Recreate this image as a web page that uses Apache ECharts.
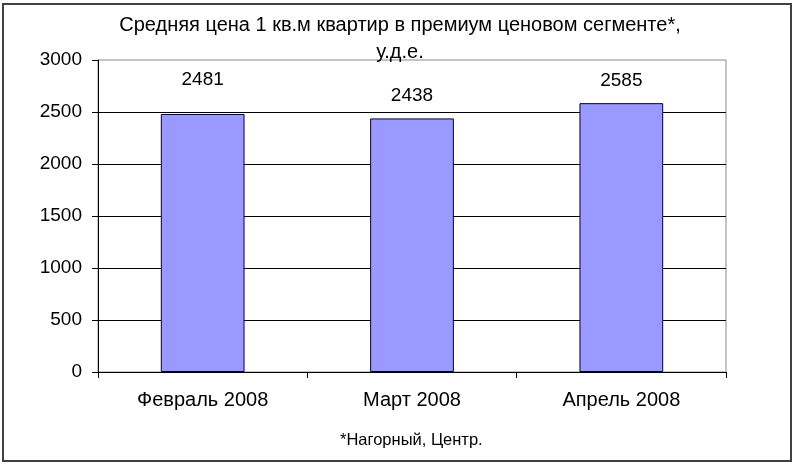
<!DOCTYPE html>
<html>
<head>
<meta charset="utf-8">
<script src="https://cdn.jsdelivr.net/npm/echarts@6/dist/echarts.min.js"></script>
<style>
html,body{margin:0;padding:0;background:#fff;}
#chart{width:800px;height:467px;}
</style>
</head>
<body>
<div id="chart"></div>
<script>
var categories = ['Февраль 2008', 'Март 2008', 'Апрель 2008'];
var values = [2481, 2438, 2585];
var titleText = 'Средняя цена 1 кв.м квартир в премиум ценовом сегменте*,\nу.д.е.';
var footnoteText = '*Нагорный, Центр.';

var labelDistances = [25, 13, 13];
var FONT = '"Liberation Sans", Arial, sans-serif';

var chart = echarts.init(document.getElementById('chart'), null, {renderer: 'canvas'});
chart.setOption({
  animation: false,
  backgroundColor: '#fff',
  textStyle: {fontFamily: FONT},
  graphic: [{
    type: 'rect',
    shape: {x: 3, y: 4, width: 788, height: 457},
    style: {fill: 'none', stroke: '#404040', lineWidth: 2},
    silent: true
  }],
  title: [{
    text: titleText,
    left: 'center',
    top: 7,
    textStyle: {fontFamily: FONT, fontSize: 20, fontWeight: 'normal', color: '#000', lineHeight: 27}
  }, {
    text: footnoteText,
    left: 335,
    top: 427,
    textStyle: {fontFamily: FONT, fontSize: 16.5, fontWeight: 'normal', color: '#000'}
  }],
  grid: {left: 98, right: 74, top: 60, bottom: 95, show: true, borderColor: '#888', borderWidth: 1, backgroundColor: 'transparent'},
  xAxis: {
    type: 'category',
    data: categories,
    axisLine: {lineStyle: {color: '#000', width: 1}},
    axisTick: {show: true, length: 6, lineStyle: {color: '#000'}},
    axisLabel: {fontFamily: FONT, fontSize: 20, color: '#000', margin: 18}
  },
  yAxis: {
    type: 'value',
    min: 0,
    max: 3000,
    interval: 500,
    axisLine: {show: true, lineStyle: {color: '#000', width: 1}},
    axisTick: {show: true, length: 6, lineStyle: {color: '#000'}},
    axisLabel: {fontFamily: FONT, fontSize: 19, color: '#000', margin: 16, formatter: function (v) { return String(v); }},
    splitLine: {show: true, showMaxLine: false, lineStyle: {color: '#000', width: 1}}
  },
  series: [{
    type: 'bar',
    barWidth: '40%',
    data: values.map(function (v, i) {
      return {value: v, label: {distance: labelDistances[i]}};
    }),
    itemStyle: {color: '#9999FF', borderColor: '#000033', borderWidth: 1},
    label: {show: true, position: 'top', fontFamily: FONT, fontSize: 19, color: '#000'}
  }]
});
</script>
</body>
</html>
